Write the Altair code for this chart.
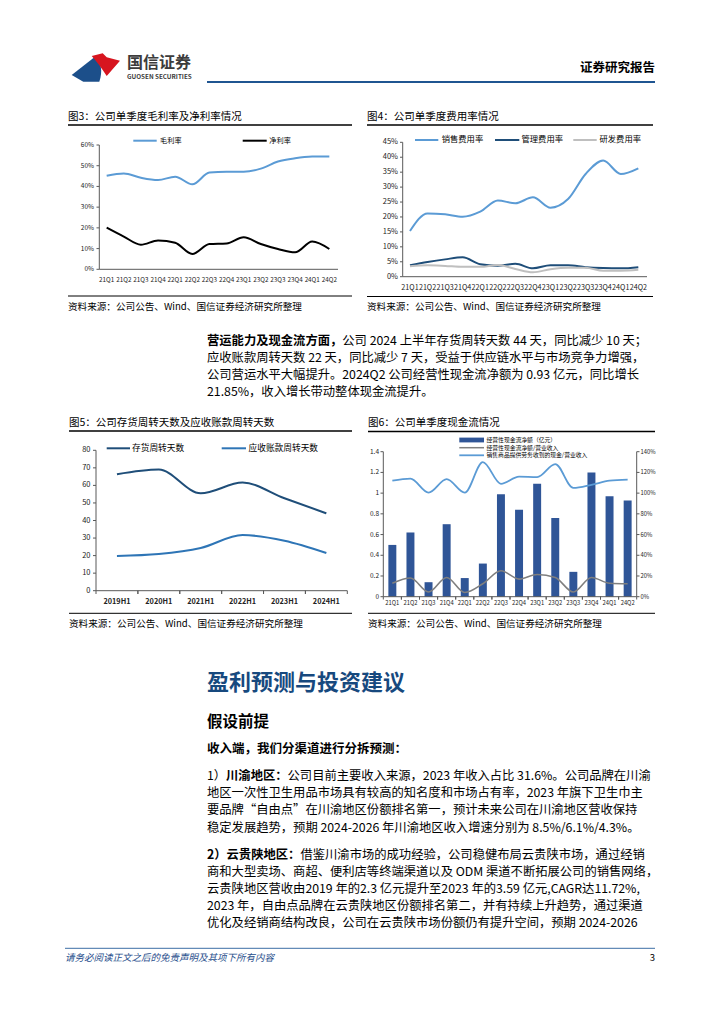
import altair as alt
import pandas as pd

FONT = "Noto Sans CJK SC"
W, H = 708, 1000
OX, OY = 8, 8

# ---------------- data ----------------
quarters = ["21Q1", "21Q2", "21Q3", "21Q4", "22Q1", "22Q2", "22Q3",
            "22Q4", "23Q1", "23Q2", "23Q3", "23Q4", "24Q1", "24Q2"]
gross_margin = [45.2, 46.3, 44.2, 43.1, 44.7, 41.0, 46.7, 47.1, 47.1, 48.6, 52.0, 53.6, 54.4, 54.5]
net_margin = [20.1, 15.8, 11.9, 13.9, 12.8, 7.4, 12.2, 12.5, 15.5, 12.2, 9.8, 8.2, 13.4, 9.8]

sales_rate = [15.3, 21.2, 20.9, 20.1, 21.8, 25.5, 24.6, 26.6, 23.1, 26.0, 34.4, 38.9, 34.4, 36.3]
admin_rate = [3.8, 4.9, 5.8, 6.5, 4.2, 3.7, 4.3, 2.8, 3.8, 3.8, 3.2, 2.9, 2.8, 3.2]
rd_rate = [3.5, 3.8, 3.6, 3.3, 3.3, 3.9, 2.6, 1.5, 2.5, 3.0, 3.0, 2.0, 2.0, 2.3]

halves = ["2019H1", "2020H1", "2021H1", "2022H1", "2023H1", "2024H1"]
inventory_days = [66.3, 69.0, 55.5, 61.6, 52.7, 44.1]
receivable_days = [19.8, 20.9, 24.3, 31.7, 28.5, 21.5]

ocf = [0.50, 0.62, 0.14, 0.70, 0.18, 0.32, 0.99, 0.84, 1.09, 0.76, 0.24, 1.20, 0.97, 0.93]
ocf_ratio = [13.0, 18.0, 4.5, 18.5, 4.0, 12.5, 25.0, 17.0, 21.5, 18.5, 4.5, 18.5, 13.0, 12.5]
cash_ratio = [112.0, 114.0, 100.5, 113.5, 100.5, 130.0, 109.0, 116.0, 115.5, 128.0, 105.0, 108.0, 112.0, 113.0]

ticks3 = [0, 10, 20, 30, 40, 50, 60]
ticks4 = [0, 5, 10, 15, 20, 25, 30, 35, 40, 45]
ticks5 = [0, 10, 20, 30, 40, 50, 60, 70, 80]
ticks6L = [0, 0.2, 0.4, 0.6, 0.8, 1.0, 1.2, 1.4]
ticks6L_labels = ["0", "0.2", "0.4", "0.6", "0.8", "1", "1.2", "1.4"]
ticks6R = [0, 20, 40, 60, 80, 100, 120, 140]

source_text = "资料来源：公司公告、Wind、国信证券经济研究所整理"

# ---------------- colours ----------------
NAVY = "#1f4e79"
LIGHT = "#5b9bd5"
MID = "#2e75b6"
BAR = "#2f5597"
GREY = "#bfbfbf"
AX = "#595959"


def px(v):
    return v - OX


def py(v):
    return v - OY


one = pd.DataFrame({"k": [0]})


def txt(s, x, y, size=12.0, weight="normal", color="#000000", align="left", style="normal"):
    return alt.Chart(pd.DataFrame({"t": [s]})).mark_text(
        align=align, baseline="middle", font=FONT, fontSize=size,
        fontWeight=weight, color=color, fontStyle=style
    ).encode(x=alt.value(px(x)), y=alt.value(py(y)), text="t:N")


def hline(x1, x2, y, color="#000000", w=1.0):
    return alt.Chart(one).mark_rule(color=color, strokeWidth=w).encode(
        x=alt.value(px(x1)), x2=alt.value(px(x2)), y=alt.value(py(y)))


def vline(x, y1, y2, color="#000000", w=1.0):
    return alt.Chart(one).mark_rule(color=color, strokeWidth=w).encode(
        x=alt.value(px(x)), y=alt.value(py(y1)), y2=alt.value(py(y2)))


def rect(x1, x2, y1, y2, color):
    return alt.Chart(one).mark_rect(color=color).encode(
        x=alt.value(px(x1)), x2=alt.value(px(x2)), y=alt.value(py(y1)), y2=alt.value(py(y2)))


def pscale(cats, x0, x1):
    return alt.Scale(type="point", domain=cats, range=[px(x0), px(x1)], padding=0.5)


def bscale(cats, x0, x1, inner=0.0):
    return alt.Scale(type="band", domain=cats, range=[px(x0), px(x1)],
                     paddingInner=inner, paddingOuter=inner / 2)


def lscale(d0, d1, ybot, ytop):
    return alt.Scale(domain=[d0, d1], range=[py(ybot), py(ytop)], nice=False)


def series_line(cats, vals, xs, ys, color, w, interp="monotone"):
    df = pd.DataFrame({"cat": cats, "v": vals})
    return alt.Chart(df).mark_line(color=color, strokeWidth=w, interpolate=interp).encode(
        x=alt.X("cat:N", scale=xs, axis=None, sort=cats),
        y=alt.Y("v:Q", scale=ys, axis=None))


def ylabels(vals, labels, ys, x, align, size, color="#222222"):
    df = pd.DataFrame({"v": vals, "t": labels})
    return alt.Chart(df).mark_text(align=align, baseline="middle", font=FONT,
                                   fontSize=size, color=color).encode(
        x=alt.value(px(x)), y=alt.Y("v:Q", scale=ys, axis=None), text="t:N")


def yticks(vals, ys, x1, x2, color=AX):
    df = pd.DataFrame({"v": vals})
    return alt.Chart(df).mark_rule(color=color, strokeWidth=1).encode(
        x=alt.value(px(x1)), x2=alt.value(px(x2)), y=alt.Y("v:Q", scale=ys, axis=None))


def xlabels(cats, xs, y, size, weight="normal", color="#222222"):
    df = pd.DataFrame({"cat": cats})
    return alt.Chart(df).mark_text(align="center", baseline="middle", font=FONT,
                                   fontSize=size, fontWeight=weight, color=color).encode(
        x=alt.X("cat:N", scale=xs, axis=None), y=alt.value(py(y)), text="cat:N")


def xticks(cats, xs, y1, y2, pos, color=AX):
    df = pd.DataFrame({"cat": cats})
    return alt.Chart(df).mark_rule(color=color, strokeWidth=1).encode(
        x=alt.X("cat:N", scale=xs, axis=None, bandPosition=pos),
        y=alt.value(py(y1)), y2=alt.value(py(y2)))


def logo_shape(path, color):
    return alt.Chart(one).mark_point(shape=path, filled=True, size=2704, color=color,
                                     opacity=1, strokeWidth=0).encode(
        x=alt.value(px(96)), y=alt.value(py(67)))


layers = []

# ---------------- header ----------------
layers.append(logo_shape("M-0.935,0.308 L-0.038,-0.396 Q0.33,-0.04 0.127,0.565 L-0.488,0.565 Z", "#1c4f8a"))
layers.append(logo_shape("M-0.165,-0.423 L0.258,-0.527 L0.412,-0.373 L0.923,-0.242 L0.412,0.346 Q0.115,-0.115 -0.165,-0.423 Z", "#d7151f"))
layers.append(txt("国信证券", 127, 63, 16, "bold", "#3c3c3c"))
layers.append(txt("GUOSEN SECURITIES", 127, 77, 6.3, "bold", "#3c3c3c"))
layers.append(hline(207, 655, 82, "#1f5591", 2.2))
layers.append(txt("证券研究报告", 655, 68, 12.5, "bold", "#000000", align="right"))

# ---------------- chart 3 ----------------
xs3 = pscale(quarters, 98.1, 337.9)
ys3 = lscale(0, 60, 269.3, 145)
layers += [
    txt("图3：公司单季度毛利率及净利率情况", 68, 117, 10.5),
    hline(68, 352, 125, "#000000", 1.3),
    vline(99.3, 145, 269.3, AX), hline(99.3, 338, 269.3, AX),
    yticks(ticks3, ys3, 96.5, 99.3),
    ylabels(ticks3, [f"{t}%" for t in ticks3], ys3, 94, "right", 6.5),
    xlabels(quarters, xs3, 280, 6.3),
    series_line(quarters, gross_margin, xs3, ys3, LIGHT, 2.0),
    series_line(quarters, net_margin, xs3, ys3, "#000000", 2.0),
    hline(133.3, 156.7, 140.7, LIGHT, 2.0), txt("毛利率", 160, 140.7, 7.2),
    hline(242.7, 266.7, 140.7, "#000000", 2.0), txt("净利率", 269.3, 140.7, 7.2),
    hline(68, 352, 296, "#000000", 1.0),
    txt(source_text, 68, 307, 9.6),
]

# ---------------- chart 4 ----------------
xs4 = pscale(quarters, 401.2, 647.1)
ys4 = lscale(0, 45, 276.7, 142.3)
layers += [
    txt("图4：公司单季度费用率情况", 367, 117, 10.5),
    hline(367, 653, 125, "#000000", 1.3),
    vline(402.7, 142.3, 276.7, AX), hline(402.7, 647, 276.7, AX),
    yticks(ticks4, ys4, 400, 402.7),
    ylabels(ticks4, [f"{t}%" for t in ticks4], ys4, 398, "right", 7.5),
    xlabels(quarters, xs4, 288, 7.2),
    series_line(quarters, sales_rate, xs4, ys4, LIGHT, 2.0),
    series_line(quarters, admin_rate, xs4, ys4, NAVY, 2.0),
    series_line(quarters, rd_rate, xs4, ys4, GREY, 2.0),
    hline(415, 438.3, 140, LIGHT, 2.0), txt("销售费用率", 441.7, 140, 8.3),
    hline(495, 519.3, 140, NAVY, 2.0), txt("管理费用率", 521.5, 140, 8.3),
    hline(573.3, 596.7, 140, GREY, 2.0), txt("研发费用率", 599.5, 140, 8.3),
    hline(367, 653, 296.5, "#000000", 1.0),
    txt(source_text, 367, 306.7, 9.6),
]

# ---------------- paragraph ----------------
P1Y = [341, 358, 375, 392]
FS = 12.3
layers += [
    txt("营运能力及现金流方面，", 207, P1Y[0], FS, "bold"),
    txt("公司 2024 上半年存货周转天数 44 天，同比减少 10 天；", 207 + 11 * FS, P1Y[0], FS),
    txt("应收账款周转天数 22 天，同比减少 7 天，受益于供应链水平与市场竞争力增强，", 207, P1Y[1], FS),
    txt("公司营运水平大幅提升。2024Q2 公司经营性现金流净额为 0.93 亿元，同比增长", 207, P1Y[2], FS),
    txt("21.85%，收入增长带动整体现金流提升。", 207, P1Y[3], FS),
]

# ---------------- chart 5 ----------------
xs5 = pscale(halves, 96, 347.3)
xb5 = bscale(halves, 96, 347.3)
ys5 = lscale(0, 80, 590.7, 450.3)
layers += [
    txt("图5：公司存货周转天数及应收账款周转天数", 69, 422.7, 10.5),
    hline(69, 352, 431, "#000000", 1.3),
    vline(96, 450.3, 590.7, AX), hline(96, 347.3, 590.7, AX),
    yticks(ticks5, ys5, 93, 96),
    ylabels(ticks5, [str(t) for t in ticks5], ys5, 90.5, "right", 7.5),
    xticks(halves, xb5, 590.7, 594, 0), xticks(halves, xb5, 590.7, 594, 1),
    xlabels(halves, xs5, 601.7, 7.3, "bold"),
    series_line(halves, inventory_days, xs5, ys5, NAVY, 2.0),
    series_line(halves, receivable_days, xs5, ys5, MID, 2.0),
    hline(106.7, 130, 448.3, NAVY, 2.0), txt("存货周转天数", 132, 448.3, 8.7),
    hline(221.7, 246, 448.3, MID, 2.0), txt("应收账款周转天数", 248.5, 448.3, 8.7),
    hline(69, 352, 613.3, "#000000", 1.0),
    txt(source_text, 69, 624.3, 9.6),
]

# ---------------- chart 6 ----------------
xs6 = pscale(quarters, 383.3, 636.7)
xb6 = bscale(quarters, 383.3, 636.7, 0.56)
xt6 = bscale(quarters, 383.3, 636.7)
ys6L = lscale(0, 1.4, 596.7, 451.7)
ys6R = lscale(0, 140, 596.7, 451.7)
df6 = pd.DataFrame({"cat": quarters, "v": ocf})
layers += [
    txt("图6：公司单季度现金流情况", 368, 422.7, 10.5),
    hline(368, 655, 431.5, "#000000", 1.3),
    alt.Chart(df6).mark_bar(color=BAR).encode(
        x=alt.X("cat:N", scale=xb6, axis=None),
        y=alt.Y("v:Q", scale=ys6L, axis=None)),
    vline(383.3, 451.7, 596.7, AX), vline(636.7, 451.7, 596.7, AX),
    hline(383.3, 636.7, 596.7, AX),
    yticks(ticks6L, ys6L, 380.5, 383.3),
    ylabels(ticks6L, ticks6L_labels, ys6L, 379, "right", 6.5),
    yticks(ticks6R, ys6R, 636.7, 639.5),
    ylabels(ticks6R, [f"{t}%" for t in ticks6R], ys6R, 640.5, "left", 5.8),
    xticks(quarters, xt6, 596.7, 599.5, 0), xticks(quarters, xt6, 596.7, 599.5, 1),
    xlabels(quarters, xs6, 602.5, 5.8),
    series_line(quarters, ocf_ratio, xs6, ys6R, "#7f7f7f", 1.6),
    series_line(quarters, cash_ratio, xs6, ys6R, LIGHT, 1.8),
    rect(459.3, 484, 437.6, 442.4, BAR), txt("经营性现金流净额（亿元）", 486.5, 440, 5.8),
    hline(459.3, 484, 447.7, "#7f7f7f", 1.5), txt("经营性现金流净额/营业收入", 486.5, 447.7, 5.8),
    hline(459.3, 484, 455.3, LIGHT, 1.8), txt("销售商品提供劳务收到的现金/营业收入", 486.5, 455.3, 5.8),
    hline(368, 655, 613.3, "#000000", 1.0),
    txt(source_text, 368, 624.3, 9.6),
]

# ---------------- section text ----------------
layers += [
    txt("盈利预测与投资建议", 207, 683, 22, "bold", "#17497e"),
    txt("假设前提", 207, 722, 15.5, "bold"),
    txt("收入端，我们分渠道进行分拆预测：", 207, 749, 12.5, "bold"),
]
PA = [776, 793.2, 810.4, 827.6]
layers += [
    txt("1）", 207, PA[0], FS),
    txt("川渝地区：", 207 + 1.55 * FS, PA[0], FS, "bold"),
    txt("公司目前主要收入来源，2023 年收入占比 31.6%。公司品牌在川渝", 207 + 6.55 * FS, PA[0], FS),
    txt("地区一次性卫生用品市场具有较高的知名度和市场占有率，2023 年旗下卫生巾主", 207, PA[1], FS),
    txt("要品牌“自由点”在川渝地区份额排名第一，预计未来公司在川渝地区营收保持", 207, PA[2], FS),
    txt("稳定发展趋势，预期 2024-2026 年川渝地区收入增速分别为 8.5%/6.1%/4.3%。", 207, PA[3], FS),
]
PB = [854.5, 871.5, 888.5, 905.5, 922.5]
layers += [
    txt("2）云贵陕地区：", 207, PB[0], FS, "bold"),
    txt("借鉴川渝市场的成功经验，公司稳健布局云贵陕市场，通过经销", 207 + 7.6 * FS, PB[0], FS),
    txt("商和大型卖场、商超、便利店等终端渠道以及 ODM 渠道不断拓展公司的销售网络，", 207, PB[1], FS),
    txt("云贵陕地区营收由2019 年的2.3 亿元提升至2023 年的3.59 亿元,CAGR达11.72%,", 207, PB[2], FS),
    txt("2023 年，自由点品牌在云贵陕地区份额排名第二，并有持续上升趋势，通过渠道", 207, PB[3], FS),
    txt("优化及经销商结构改良，公司在云贵陕市场份额仍有提升空间，预期 2024-2026", 207, PB[4], FS),
]

# ---------------- footer ----------------
layers += [
    hline(65, 655, 948.3, "#3d6ea5", 1.0),
    txt("请务必阅读正文之后的免责声明及其项下所有内容", 65, 957.5, 9.5, "normal", "#1f4e8c", style="italic"),
    txt("3", 655, 957.5, 9.5, "normal", "#000000", align="right"),
]

chart = alt.layer(*layers).resolve_scale(
    x="independent", y="independent"
).properties(
    width=W, height=H, padding=0, autosize="none", background="#ffffff"
).configure_view(strokeWidth=0)

chart.save("out.html", embed_options={"renderer": "svg", "actions": False})
